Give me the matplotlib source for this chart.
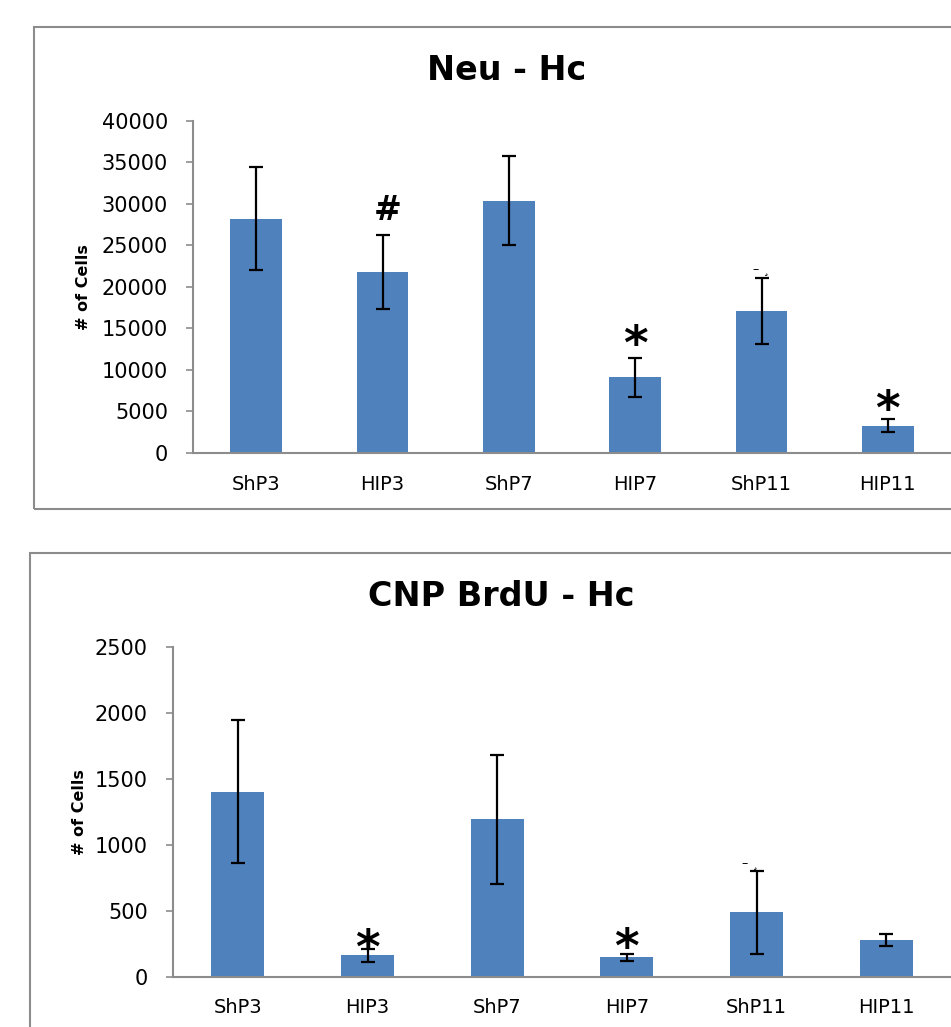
import matplotlib
matplotlib.use("Agg")
import matplotlib.pyplot as plt
from matplotlib.patches import Rectangle

categories = ["ShP3", "HIP3", "ShP7", "HIP7", "ShP11", "HIP11"]

neu_values = [28200, 21800, 30400, 9100, 17100, 3300]
neu_errors = [6200, 4500, 5400, 2400, 4000, 800]
neu_ticks = [0, 5000, 10000, 15000, 20000, 25000, 30000, 35000, 40000]

cnp_values = [1405, 165, 1195, 150, 490, 278]
cnp_errors = [540, 50, 490, 28, 315, 45]
cnp_ticks = [0, 500, 1000, 1500, 2000, 2500]

BLUE = "#4F81BD"
GRAY = "#8C8C8C"
W, H = 951, 1027


def fx(px):
    return px / W


def fy(py):
    return 1 - py / H


def style_axes(ax, ticks, ypad, xpad):
    ax.set_xlim(-0.5, len(categories) - 0.5)
    ax.set_ylim(ticks[0], ticks[-1])
    ax.set_yticks(ticks)
    ax.set_yticklabels([str(t) for t in ticks])
    ax.set_xticks(range(len(categories)))
    ax.set_xticklabels(categories)
    for s in ["top", "right"]:
        ax.spines[s].set_visible(False)
    for s in ["left", "bottom"]:
        ax.spines[s].set_color(GRAY)
        ax.spines[s].set_linewidth(1.5)
        ax.spines[s].set_clip_on(False)
    ax.tick_params(axis="y", length=5, width=1.2, color=GRAY,
                   labelsize=15, pad=ypad)
    ax.tick_params(axis="x", length=0, labelsize=14, pad=xpad)


def bars(ax, values, errors):
    ax.bar(range(len(categories)), values, width=0.41, color=BLUE,
           yerr=errors, capsize=5,
           error_kw=dict(ecolor="black", elinewidth=1.6, capthick=1.6),
           zorder=2)


fig = plt.figure(figsize=(W / 100, H / 100), dpi=100)

# frames around each chart
fig.patches.append(Rectangle((fx(34), fy(509)), fx(960 - 34), fy(27) - fy(509),
                             transform=fig.transFigure, fill=False,
                             edgecolor=GRAY, linewidth=1.5))
fig.patches.append(Rectangle((fx(30), fy(1060)), fx(960 - 30), fy(553) - fy(1060),
                             transform=fig.transFigure, fill=False,
                             edgecolor=GRAY, linewidth=1.5))

# top chart
ax1 = fig.add_axes([fx(193), fy(453), fx(951 - 193), fy(121) - fy(453)])
bars(ax1, neu_values, neu_errors)
style_axes(ax1, neu_ticks, 13, 16)
ax1.text(1.04, 29200, "#", ha="center", va="center", fontsize=24,
         fontweight="bold")
ax1.text(3, 12800, "*", ha="center", va="center", fontsize=34,
         fontweight="bold")
ax1.text(5, 5000, "*", ha="center", va="center", fontsize=34,
         fontweight="bold")
ax1.text(4.0, 22100, "\u2013 \u00b8", ha="center", va="center", fontsize=9)
fig.text(fx(507), fy(70), "Neu - Hc", ha="center", va="center",
         fontsize=24, fontweight="bold")
fig.text(fx(84), fy(287), "# of Cells", ha="center", va="center",
         rotation=90, fontsize=11.5, fontweight="bold")

# bottom chart
ax2 = fig.add_axes([fx(173), fy(977), fx(951 - 173), fy(647) - fy(977)])
bars(ax2, cnp_values, cnp_errors)
style_axes(ax2, cnp_ticks, 13, 15)
ax2.text(1, 200, "*", ha="center", va="center", fontsize=34,
         fontweight="bold")
ax2.text(3, 205, "*", ha="center", va="center", fontsize=34,
         fontweight="bold")
ax2.text(3.95, 860, "\u2013 \u00b8", ha="center", va="center", fontsize=9)
fig.text(fx(501), fy(597), "CNP BrdU - Hc", ha="center", va="center",
         fontsize=24, fontweight="bold")
fig.text(fx(80), fy(812), "# of Cells", ha="center", va="center",
         rotation=90, fontsize=11.5, fontweight="bold")

fig.savefig("out.png", dpi=100)
